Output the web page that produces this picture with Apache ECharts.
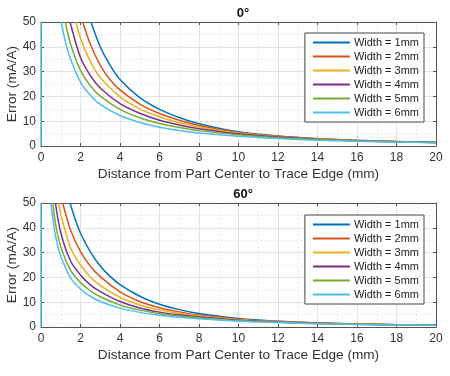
<!DOCTYPE html>
<html>
<head>
<meta charset="utf-8">
<script src="https://cdn.jsdelivr.net/npm/echarts@6/dist/echarts.min.js"></script>
<style>
  html, body { margin: 0; padding: 0; background: #fff; }
  #chart { width: 450px; height: 376px; }
</style>
</head>
<body>
<div id="chart"></div>
<script>
// legend names
var widthNames = ['Width = 1mm', 'Width = 2mm', 'Width = 3mm', 'Width = 4mm', 'Width = 5mm', 'Width = 6mm'];
var plotTitles = ['0°', '60°'];

var top_w1 = [[2.53, 50], [3, 40], [3.5, 32.5], [4, 26.8], [5, 19.5], [6, 14.8], [7, 11.5], [8, 9.0], [10, 5.7], [12, 4.0], [14, 2.95], [16, 2.3], [18, 1.85], [20, 1.48]];
var top_w2 = [[2.11, 50], [2.5, 41], [3, 32.5], [3.5, 26.7], [4, 22.6], [5, 16.9], [6, 13.1], [7, 10.4], [8, 8.3], [10, 5.45], [12, 3.9], [14, 2.9], [16, 2.26], [18, 1.82], [20, 1.46]];
var top_w3 = [[1.77, 50], [2, 43.5], [2.5, 34], [3, 27.6], [4, 19.8], [5, 15], [6, 11.8], [7, 9.4], [8, 7.7], [10, 5.2], [12, 3.75], [14, 2.82], [16, 2.2], [18, 1.78], [20, 1.43]];
var top_w4 = [[1.47, 50], [2, 35.7], [2.5, 28.4], [3, 23.4], [4, 17.1], [5, 13.2], [6, 10.4], [7, 8.5], [8, 7.0], [10, 4.9], [12, 3.6], [14, 2.75], [16, 2.15], [18, 1.74], [20, 1.41]];
var top_w5 = [[1.23, 50], [1.5, 41], [2, 30.5], [2.5, 24.3], [3, 20.1], [4, 14.8], [5, 11.4], [6, 9.1], [7, 7.5], [8, 6.2], [10, 4.5], [12, 3.35], [14, 2.6], [16, 2.05], [18, 1.68], [20, 1.38]];
var top_w6 = [[1.02, 50], [1.25, 41.5], [1.5, 35], [2, 25.8], [2.5, 20.5], [3, 16.8], [4, 12.3], [5, 9.5], [6, 7.6], [7, 6.25], [8, 5.25], [10, 3.9], [12, 3.0], [14, 2.35], [16, 1.9], [18, 1.6], [20, 1.35]];

var bot_w1 = [[1.47, 50], [1.75, 43], [2, 37.8], [2.5, 30.3], [3, 24.6], [3.5, 20.4], [4, 17.1], [5, 12.4], [6, 9.2], [7, 7], [8, 5.4], [10, 3.4], [12, 2.3], [14, 1.65], [16, 1.22], [18, 0.93], [20, 0.73]];
var bot_w2 = [[1.1, 50], [1.5, 39], [2, 30.4], [2.5, 24.5], [3, 20.3], [4, 14.2], [5, 10.3], [6, 7.8], [7, 6.1], [8, 4.8], [10, 3.15], [12, 2.2], [14, 1.6], [16, 1.2], [18, 0.92], [20, 0.72]];
var bot_w3 = [[0.9, 50], [1, 45.5], [1.5, 31.8], [2, 25], [2.5, 20.2], [3, 16.8], [4, 12], [5, 8.9], [6, 6.9], [7, 5.5], [8, 4.45], [10, 2.95], [12, 2.1], [14, 1.55], [16, 1.17], [18, 0.9], [20, 0.71]];
var bot_w4 = [[0.73, 50], [1, 38], [1.5, 26.5], [2, 21], [2.5, 17], [3, 14.3], [4, 10.3], [5, 7.7], [6, 6.0], [7, 4.9], [8, 4.05], [10, 2.75], [12, 2.0], [14, 1.5], [16, 1.13], [18, 0.88], [20, 0.7]];
var bot_w5 = [[0.6, 50], [0.75, 41], [1, 32.5], [1.5, 22.8], [2, 17.9], [2.5, 14.6], [3, 12.2], [4, 8.9], [5, 6.8], [6, 5.35], [7, 4.4], [8, 3.7], [10, 2.55], [12, 1.9], [14, 1.42], [16, 1.08], [18, 0.86], [20, 0.69]];
var bot_w6 = [[0.5, 50], [0.75, 36], [1, 28.5], [1.5, 19.8], [2, 15.3], [2.5, 12.4], [3, 10.3], [4, 7.6], [5, 5.9], [6, 4.75], [7, 3.95], [8, 3.35], [10, 2.4], [12, 1.8], [14, 1.35], [16, 1.05], [18, 0.84], [20, 0.68]];

var colors = ['#0072BD', '#D95319', '#EDB120', '#7E2F8E', '#77AC30', '#4DBEEE'];
var topData = [top_w1, top_w2, top_w3, top_w4, top_w5, top_w6];
var botData = [bot_w1, bot_w2, bot_w3, bot_w4, bot_w5, bot_w6];

var font = 'Liberation Sans, Arial, Helvetica, sans-serif';
var axisColor = '#555';
var labelColor = '#333';

var grids = [
  { left: 41, right: 14, top: 22, height: 124, outerBoundsMode: 'none', containLabel: false },
  { left: 41, right: 14, top: 203, height: 124, outerBoundsMode: 'none', containLabel: false }
];

function xAx(i, main) {
  return {
    type: 'value', gridIndex: i, min: 0, max: 20, interval: 2,
    position: main ? 'bottom' : 'top',
    name: main ? 'Distance from Part Center to Trace Edge (mm)' : '',
    nameLocation: 'middle', nameGap: 21, nameMoveOverlap: false,
    nameTextStyle: { fontFamily: font, fontSize: 13.6, color: labelColor },
    axisLine: { show: true, onZero: false, lineStyle: { color: axisColor, width: 1 } },
    axisTick: { show: true, inside: true, length: 3, lineStyle: { color: axisColor } },
    axisLabel: { show: main, fontFamily: font, fontSize: 12, color: labelColor, margin: 6 },
    splitLine: { show: main, lineStyle: { color: '#e3e3e3', width: 1 } },
    minorTick: { show: false, splitNumber: 2 },
    minorSplitLine: { show: main, lineStyle: { color: '#d8d8d8', type: [1, 3], width: 1 } }
  };
}
function yAx(i, main) {
  return {
    type: 'value', gridIndex: i, min: 0, max: 50, interval: 10,
    position: main ? 'left' : 'right',
    name: main ? 'Error (mA/A)' : '',
    nameLocation: 'middle', nameGap: 22, nameRotate: 90, nameMoveOverlap: false,
    nameTextStyle: { fontFamily: font, fontSize: 13.6, color: labelColor },
    axisLine: { show: true, onZero: false, lineStyle: { color: axisColor, width: 1 } },
    axisTick: { show: true, inside: true, length: 3, lineStyle: { color: axisColor } },
    axisLabel: { show: main, fontFamily: font, fontSize: 12, color: labelColor, margin: 5 },
    splitLine: { show: main, lineStyle: { color: '#e3e3e3', width: 1 } },
    minorTick: { show: false, splitNumber: 2 },
    minorSplitLine: { show: main, lineStyle: { color: '#d8d8d8', type: [1, 3], width: 1 } }
  };
}

var series = [];
[topData, botData].forEach(function (set, g) {
  set.forEach(function (pts, k) {
    var s = {
      name: widthNames[k], type: 'line',
      xAxisIndex: g * 2, yAxisIndex: g * 2,
      data: pts, symbol: 'none', smooth: 0.3,
      clip: true,
      lineStyle: { color: colors[k], width: 1.5 },
      itemStyle: { color: colors[k] }
    };
    if (k === set.length - 1) {
      // vertical trace along x = 0
      s.markLine = {
        silent: true, symbol: ['none', 'none'], label: { show: false },
        lineStyle: { color: colors[k], type: 'solid', width: 1.5 },
        data: [[{ coord: [0, 0] }, { coord: [0, 50] }]]
      };
    }
    series.push(s);
  });
});

function legendAt(top) {
  return {
    orient: 'vertical', right: 26, top: top,
    data: widthNames,
    icon: 'rect', itemWidth: 37, itemHeight: 2, itemGap: 3,
    backgroundColor: '#fff', borderColor: '#444', borderWidth: 1,
    padding: [4, 5, 4, 8],
    textStyle: { fontFamily: font, fontSize: 11, color: '#222', lineHeight: 10.4, padding: [0, 0, 0, -1] },
    selectedMode: false
  };
}

var chart = echarts.init(document.getElementById('chart'));
chart.setOption({
  animation: false,
  backgroundColor: '#fff',
  title: plotTitles.map(function (t, i) {
    return {
      text: t, left: 238, top: i === 0 ? 2 : 183, textAlign: 'center',
      textStyle: { fontFamily: font, fontSize: 13, fontWeight: 'bold', color: '#111' }
    };
  }),
  legend: [legendAt(33), legendAt(215)],
  grid: grids,
  xAxis: [xAx(0, true), xAx(0, false), xAx(1, true), xAx(1, false)],
  yAxis: [yAx(0, true), yAx(0, false), yAx(1, true), yAx(1, false)],
  series: series
});
</script>
</body>
</html>
